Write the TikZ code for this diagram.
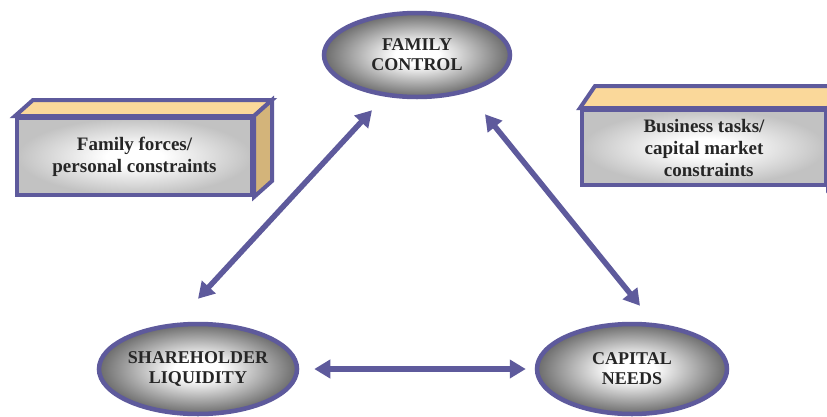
\documentclass[tikz,border=0pt]{standalone}
\usepackage{fontspec}
\setmainfont{Liberation Serif}
\usetikzlibrary{shapes.geometric,arrows.meta,calc}
\definecolor{pur}{HTML}{5E5A9C}
\definecolor{topc}{HTML}{FAD89A}
\definecolor{sidec}{HTML}{D3B47A}
\pgfdeclareradialshading{ellshade}{\pgfpoint{0bp}{0bp}}{color(0bp)=(white);color(6bp)=(white);color(25bp)=(black!58);color(50bp)=(black!58)}
\pgfdeclareradialshading{boxshade}{\pgfpoint{0bp}{0bp}}{color(0bp)=(white);color(6bp)=(white);color(25bp)=(black!24);color(50bp)=(black!24)}
\begin{document}
\begin{tikzpicture}[x=1pt,y=-1pt,
 ell/.style={ellipse, draw=pur, line width=4.5pt, shade, shading=ellshade, inner sep=0pt, align=center,
   font=\bfseries\fontsize{18}{20}\selectfont, text=black!85},
 frontbox/.style={rectangle, draw=pur, line width=4pt, shade, shading=boxshade, inner sep=0pt, align=center,
   font=\bfseries\fontsize{19}{22}\selectfont, text=black!85},
 face/.style={draw=pur, line width=4pt, line join=miter},
 arr/.style={draw=pur, line width=5.5pt, {Triangle[length=16pt,width=18pt]}-{Triangle[length=16pt,width=18pt]}}]
\clip (0,0) rectangle (827,416);
\fill[white] (0,0) rectangle (827,416);
% ellipses
\node[ell, minimum width=186pt, minimum height=84pt] (fc) at (417,55) {FAMILY\\CONTROL};
\node[ell, minimum width=193pt, minimum height=90pt] (sl) at (198,369) {SHAREHOLDER\\LIQUIDITY};
\node[ell, minimum width=190pt, minimum height=90pt] (cn) at (632,369) {CAPITAL\\NEEDS};
% left box
\node[frontbox, minimum width=235pt, minimum height=77pt] (lb) at (134.5,156.5) {Family forces/\\personal constraints};
\filldraw[face, fill=topc] (lb.north west) -- ++(18,-16) -- ($(lb.north east)+(18,-16)$) -- (lb.north east) -- cycle;
\filldraw[face, fill=sidec] (lb.north east) -- ++(18,-16) -- ($(lb.south east)+(18,-16)$) -- (lb.south east) -- cycle;
% right box
\node[frontbox, minimum width=244pt, minimum height=75pt] (rb) at (704,147.5) {Business tasks/\\capital market\\\ \ constraints};
\filldraw[face, fill=topc] (rb.north west) -- ++(15,-22) -- ($(rb.north east)+(15,-22)$) -- (rb.north east) -- cycle;
\filldraw[face, fill=sidec] (rb.north east) -- ++(15,-22) -- ($(rb.south east)+(15,-22)$) -- (rb.south east) -- cycle;
% arrows
\draw[arr] ([xshift=-45pt,yshift=-11pt]fc.south) -- ([yshift=23pt]sl.north);
\draw[arr] ([xshift=68pt,yshift=-15pt]fc.south) -- ([xshift=8pt,yshift=16pt]cn.north);
\draw[arr] ([xshift=15pt]sl.east) -- ([xshift=-9pt]cn.west);
\end{tikzpicture}
\end{document}
